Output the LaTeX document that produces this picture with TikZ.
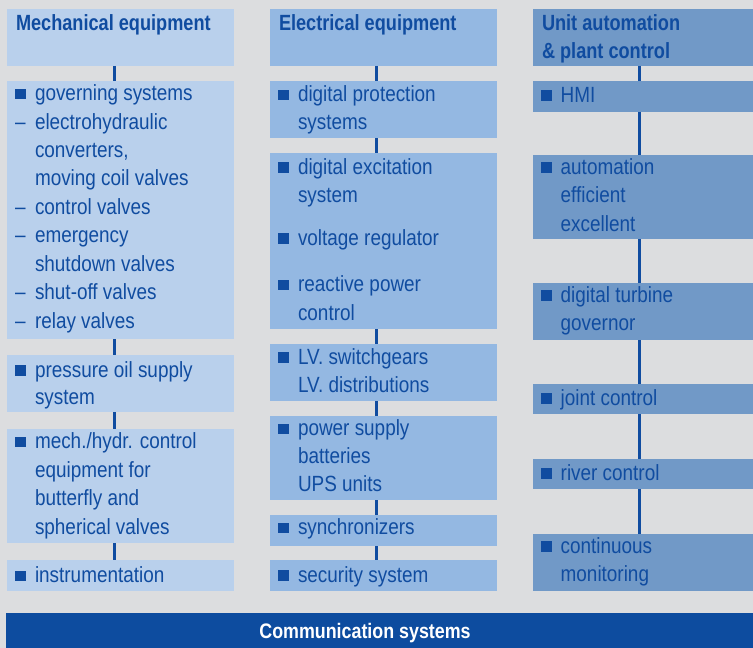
\documentclass[tikz,border=0pt]{standalone}
\usepackage{fontspec}
\setmainfont[FakeStretch=0.86]{Liberation Sans}
\newfontfamily\hfont[FakeStretch=0.825]{Liberation Sans}
\newfontfamily\barfont[FakeStretch=0.85]{Liberation Sans}
\definecolor{bgc}{RGB}{220,221,223}
\definecolor{cA}{RGB}{185,208,236}
\definecolor{cB}{RGB}{148,184,226}
\definecolor{cC}{RGB}{113,153,199}
\definecolor{tblue}{RGB}{16,76,160}
\definecolor{barblue}{RGB}{13,76,159}
\tikzset{
  box/.style={anchor=north west, inner sep=0pt, outer sep=0pt, draw=none},
  txt/.style={anchor=base west, inner sep=0pt, outer sep=0pt, text=tblue, font=\fontsize{22bp}{28bp}\selectfont},
  hd/.style={anchor=base west, inner sep=0pt, outer sep=0pt, text=tblue, font=\hfont\bfseries\fontsize{22bp}{28bp}\selectfont},
  bul/.style={anchor=south west, fill=tblue, inner sep=0pt, outer sep=0pt, minimum size=10.5bp},
  conn/.style={draw=tblue, line width=3bp},
}
% bullet at x, baseline y
\newcommand\bulat[3]{\node[bul] (#1) at (#2,#3-1.5) {};}
\begin{document}
\begin{tikzpicture}[x=1bp,y=-1bp]
\useasboundingbox (0,0) rectangle (753,648);
\fill[bgc] (0,0) rectangle (753,648);

\coordinate (c1) at (114,0);
\coordinate (c2) at (376.7,0);
\coordinate (c3) at (639.7,0);

% ---------- column 1 ----------
\node[box, fill=cA, minimum width=227bp, minimum height=57bp] (h1) at (7,9) {};
\node[box, fill=cA, minimum width=227bp, minimum height=258bp] (a1) at (7,81) {};
\node[box, fill=cA, minimum width=227bp, minimum height=57bp] (a2) at (7,355) {};
\node[box, fill=cA, minimum width=227bp, minimum height=114bp] (a3) at (7,429) {};
\node[box, fill=cA, minimum width=227bp, minimum height=31bp] (a4) at (7,560) {};
\draw[conn] (h1.south -| c1) -- (a1.north -| c1);
\draw[conn] (a1.south -| c1) -- (a2.north -| c1);
\draw[conn] (a2.south -| c1) -- (a3.north -| c1);
\draw[conn] (a3.south -| c1) -- (a4.north -| c1);

\node[hd] (h1t) at (16,30.5) {Mechanical equipment};
\bulat{b11}{15}{100.8}
\node[txt] (t11) at (35,100.8) {governing systems};
\node[txt] (d12) at (15,129.2) {–};
\node[txt] (t12) at (35,129.2) {electrohydraulic};
\node[txt] (t13) at (35,157.6) {converters,};
\node[txt] (t14) at (35,186) {moving coil valves};
\node[txt] (d15) at (15,214.4) {–};
\node[txt] (t15) at (35,214.4) {control valves};
\node[txt] (d16) at (15,242.8) {–};
\node[txt] (t16) at (35,242.8) {emergency};
\node[txt] (t17) at (35,271.2) {shutdown valves};
\node[txt] (d18) at (15,299.6) {–};
\node[txt] (t18) at (35,299.6) {shut-off valves};
\node[txt] (d19) at (15,328) {–};
\node[txt] (t19) at (35,328) {relay valves};

\bulat{b21}{15}{377}
\node[txt] (t21) at (35,377) {pressure oil supply};
\node[txt] (t22) at (35,404.5) {system};

\bulat{b31}{15}{448.8}
\node[txt] (t31) at (35,448.8) {mech./hydr. control};
\node[txt] (t32) at (35,477.2) {equipment for};
\node[txt] (t33) at (35,505.6) {butterfly and};
\node[txt] (t34) at (35,534) {spherical valves};

\bulat{b41}{15}{582.5}
\node[txt] (t41) at (35,582.5) {instrumentation};

% ---------- column 2 ----------
\node[box, fill=cB, minimum width=227bp, minimum height=57bp] (h2) at (270,9) {};
\node[box, fill=cB, minimum width=227bp, minimum height=57bp] (e1) at (270,81) {};
\node[box, fill=cB, minimum width=227bp, minimum height=176bp] (e2) at (270,153) {};
\node[box, fill=cB, minimum width=227bp, minimum height=57bp] (e3) at (270,344) {};
\node[box, fill=cB, minimum width=227bp, minimum height=84bp] (e4) at (270,416) {};
\node[box, fill=cB, minimum width=227bp, minimum height=31bp] (e5) at (270,515) {};
\node[box, fill=cB, minimum width=227bp, minimum height=31bp] (e6) at (270,560) {};
\draw[conn] (h2.south -| c2) -- (e1.north -| c2);
\draw[conn] (e1.south -| c2) -- (e2.north -| c2);
\draw[conn] (e2.south -| c2) -- (e3.north -| c2);
\draw[conn] (e3.south -| c2) -- (e4.north -| c2);
\draw[conn] (e4.south -| c2) -- (e5.north -| c2);
\draw[conn] (e5.south -| c2) -- (e6.north -| c2);

\node[hd] (h2t) at (279,31) {Electrical equipment};
\bulat{be1}{278}{102}
\node[txt] (te11) at (298,102) {digital protection};
\node[txt] (te12) at (298,130) {systems};
\bulat{be2}{278}{174.5}
\node[txt] (te21) at (298,174.5) {digital excitation};
\node[txt] (te22) at (298,202.5) {system};
\bulat{be3}{278}{245}
\node[txt] (te23) at (298,245) {voltage regulator};
\bulat{be4}{278}{291.8}
\node[txt] (te24) at (298,291.8) {reactive power};
\node[txt] (te25) at (298,320) {control};
\bulat{be5}{278}{364}
\node[txt] (te31) at (298,364) {LV. switchgears};
\node[txt] (te32) at (298,392) {LV. distributions};
\bulat{be6}{278}{435.5}
\node[txt] (te41) at (298,435.5) {power supply};
\node[txt] (te42) at (298,463.5) {batteries};
\node[txt] (te43) at (298,491.5) {UPS units};
\bulat{be7}{278}{534.5}
\node[txt] (te51) at (298,534.5) {synchronizers};
\bulat{be8}{278}{582}
\node[txt] (te61) at (298,582) {security system};

% ---------- column 3 ----------
\node[box, fill=cC, minimum width=220bp, minimum height=57bp] (h3) at (533,9) {};
\node[box, fill=cC, minimum width=220bp, minimum height=31bp] (u1) at (533,81) {};
\node[box, fill=cC, minimum width=220bp, minimum height=84bp] (u2) at (533,155) {};
\node[box, fill=cC, minimum width=220bp, minimum height=57bp] (u3) at (533,283) {};
\node[box, fill=cC, minimum width=220bp, minimum height=30bp] (u4) at (533,384) {};
\node[box, fill=cC, minimum width=220bp, minimum height=30bp] (u5) at (533,459) {};
\node[box, fill=cC, minimum width=220bp, minimum height=57bp] (u6) at (533,534) {};
\draw[conn] (h3.south -| c3) -- (u1.north -| c3);
\draw[conn] (u1.south -| c3) -- (u2.north -| c3);
\draw[conn] (u2.south -| c3) -- (u3.north -| c3);
\draw[conn] (u3.south -| c3) -- (u4.north -| c3);
\draw[conn] (u4.south -| c3) -- (u5.north -| c3);
\draw[conn] (u5.south -| c3) -- (u6.north -| c3);

\node[hd] (h3t1) at (542,30.5) {Unit automation};
\node[hd] (h3t2) at (542,58.5) {\& plant control};
\bulat{bu1}{541}{102.5}
\node[txt] (tu1) at (560.7,102.5) {HMI};
\bulat{bu2}{541}{174.5}
\node[txt] (tu21) at (560.7,174.5) {automation};
\node[txt] (tu22) at (560.7,202.5) {efficient};
\node[txt] (tu23) at (560.7,231) {excellent};
\bulat{bu3}{541}{302}
\node[txt] (tu31) at (560.7,302) {digital turbine};
\node[txt] (tu32) at (560.7,330) {governor};
\bulat{bu4}{541}{405}
\node[txt] (tu4) at (560.7,405) {joint control};
\bulat{bu5}{541}{480}
\node[txt] (tu5) at (560.7,480) {river control};
\bulat{bu6}{541}{553}
\node[txt] (tu61) at (560.7,553) {continuous};
\node[txt] (tu62) at (560.7,581) {monitoring};

% ---------- bottom bar ----------
\node[box, fill=barblue, minimum width=747bp, minimum height=36bp] (bar) at (6,612.7) {};
\node[hd, anchor=base, text=white, font=\barfont\bfseries\fontsize{21bp}{28bp}\selectfont] (bart) at (365,638.3) {Communication systems};
\end{tikzpicture}
\end{document}
